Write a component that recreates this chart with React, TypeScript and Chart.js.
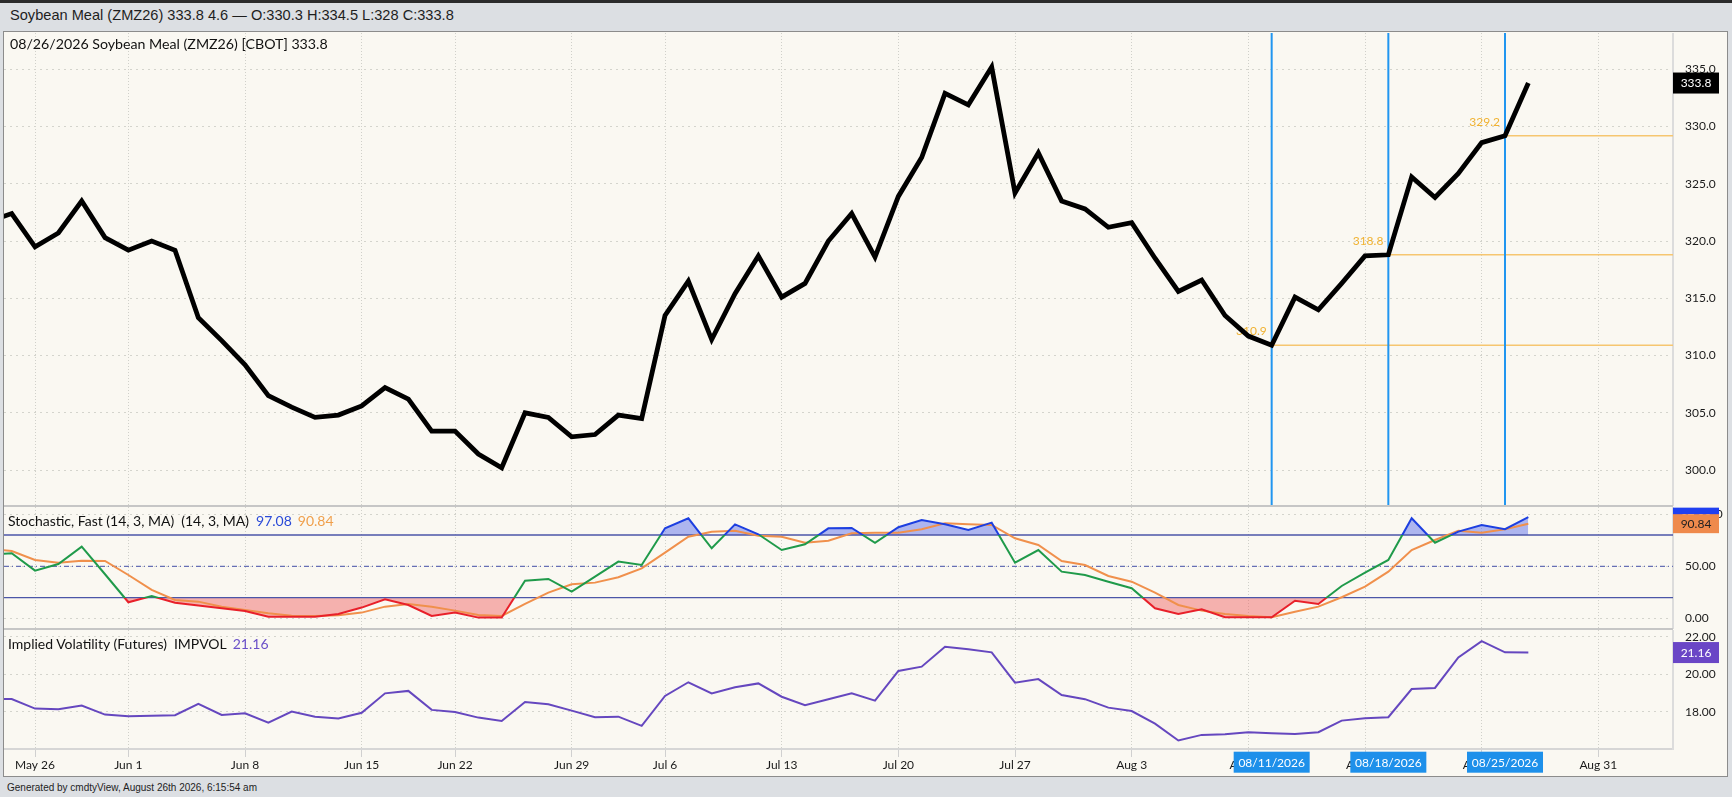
import React, { useEffect, useRef } from 'react';
import { Chart, registerables } from 'chart.js';

Chart.register(...registerables);

const FONT = 'Lato, "Open Sans", sans-serif';
const UI_FONT = '"Liberation Sans", Arial, sans-serif';
const YEAR = '2026';

// ---- data ----
const tradingDays = [
  '05/21', '05/22', '05/26', '05/27', '05/28', '05/29',
  '06/01', '06/02', '06/03', '06/04', '06/05',
  '06/08', '06/09', '06/10', '06/11', '06/12',
  '06/15', '06/16', '06/17', '06/18',
  '06/22', '06/23', '06/24', '06/25', '06/26',
  '06/29', '06/30', '07/01', '07/02',
  '07/06', '07/07', '07/08', '07/09', '07/10',
  '07/13', '07/14', '07/15', '07/16', '07/17',
  '07/20', '07/21', '07/22', '07/23', '07/24',
  '07/27', '07/28', '07/29', '07/30', '07/31',
  '08/03', '08/04', '08/05', '08/06', '08/07',
  '08/10', '08/11', '08/12', '08/13', '08/14',
  '08/17', '08/18', '08/19', '08/20', '08/21',
  '08/24', '08/25', '08/26',
];

const prices = [
  321.7, 322.4, 319.5, 320.7, 323.5, 320.3,
  319.2, 320.0, 319.2, 313.3, 311.3,
  309.2, 306.5, 305.5, 304.6, 304.8,
  305.6, 307.2, 306.2, 303.4,
  303.4, 301.4, 300.2, 305.0, 304.6,
  302.9, 303.1, 304.8, 304.5,
  313.5, 316.5, 311.4, 315.4, 318.7,
  315.1, 316.3, 320.0, 322.4, 318.6,
  323.9, 327.3, 332.9, 331.9, 335.2,
  324.2, 327.7, 323.5, 322.8, 321.2,
  321.6, 318.5, 315.6, 316.6, 313.5,
  311.7, 310.9, 315.1, 314.0, 316.3,
  318.7, 318.8, 325.6, 323.8, 325.9,
  328.6, 329.2, 333.8,
];

const stochK = [
  61.0, 62.5, 45.9, 52.2, 68.8, 42.4,
  15.6, 21.6, 15.2, 12.4, 9.8,
  7.3, 1.8, 1.8, 1.8, 4.4,
  10.5, 18.4, 13.0, 2.5,
  5.7, 0.9, 0.9, 36.3, 37.9,
  25.8, 40.1, 54.5, 51.3,
  86.4, 96.0, 67.3, 90.2, 80.7,
  65.6, 71.1, 86.4, 86.7, 72.6,
  87.4, 94.4, 90.2, 84.8, 91.8,
  53.5, 65.6, 44.9, 41.7, 35.3,
  29.0, 9.8, 4.4, 8.9, 1.2,
  1.2, 1.2, 17.1, 14.0, 31.2,
  43.9, 56.1, 96.0, 72.6, 83.2,
  89.6, 85.5, 97.08,
];

const stochD = [
  67.0, 64.7, 56.1, 53.5, 55.4, 55.1,
  41.7, 27.4, 17.8, 16.2, 11.4,
  8.2, 5.0, 2.8, 2.5, 3.2,
  5.7, 11.4, 14.0, 11.4,
  7.6, 3.4, 2.5, 14.0, 24.8,
  32.8, 34.4, 39.5, 48.1,
  63.1, 78.4, 83.2, 84.1, 79.3,
  78.4, 72.6, 74.5, 81.6, 82.2,
  82.2, 85.5, 91.2, 90.2, 89.6,
  76.8, 70.4, 55.1, 51.3, 40.8,
  35.3, 24.8, 13.0, 7.6, 4.4,
  2.5, 1.2, 6.6, 11.4, 20.4,
  30.5, 44.9, 65.6, 75.2, 84.1,
  82.2, 85.5, 90.84,
];

const impVol = [
  18.70, 18.69, 18.18, 18.14, 18.34, 17.86,
  17.77, 17.80, 17.83, 18.43, 17.84,
  17.93, 17.43, 18.02, 17.75, 17.65,
  17.96, 18.99, 19.12, 18.11,
  18.00, 17.70, 17.52, 18.53, 18.41,
  18.07, 17.72, 17.75, 17.26,
  18.85, 19.58, 18.99, 19.31, 19.52,
  18.81, 18.36, 18.68, 18.99, 18.60,
  20.18, 20.41, 21.47, 21.33, 21.17,
  19.56, 19.75, 18.90, 18.68, 18.23,
  18.05, 17.38, 16.48, 16.78, 16.82,
  16.92, 16.87, 16.83, 16.92, 17.54,
  17.67, 17.72, 19.22, 19.28, 20.90,
  21.77, 21.17, 21.16,
];

// x-axis tick positions (trading-day index, extending past the last bar) and labels
const tickIdx = [2, 6, 11, 16, 20, 25, 29, 34, 39, 44, 49, 54, 59, 64, 69];
const tickLabels = [
  'May 26', 'Jun 1', 'Jun 8', 'Jun 15', 'Jun 22', 'Jun 29', 'Jul 6', 'Jul 13',
  'Jul 20', 'Jul 27', 'Aug 3', 'Aug 10', 'Aug 17', 'Aug 24', 'Aug 31',
];

const markerDays = ['08/11', '08/18', '08/25'];
const priceTicks = [300, 305, 310, 315, 320, 325, 330, 335];
const stochTicks = [0, 50, 100];
const ivTicks = [18, 20, 22];
const stochUpper = 80;
const stochMid = 50;
const stochLower = 20;

// axis ranges
const X_MIN = 0.67;
const X_MAX = 72.2;
const PRICE_MIN = 296.86;
const PRICE_MAX = 338.17;
const STOCH_MIN = -10.0;
const STOCH_MAX = 106.8;
const IV_MIN = 16.03;
const IV_MAX = 22.36;

// ---- helpers ----
const LAST = prices.length - 1;
const markerIdx = markerDays.map((d) => tradingDays.indexOf(d));
const pts = (arr: number[]) => arr.map((y, x) => ({ x, y }));
const hline = (v: number, from = X_MIN) => [
  { x: from, y: v },
  { x: X_MAX, y: v },
];

function xAxis(labels: boolean): any {
  return {
    type: 'linear',
    min: X_MIN,
    max: X_MAX,
    afterBuildTicks: (s: any) => {
      s.ticks = tickIdx.map((v) => ({ value: v }));
    },
    afterFit: (s: any) => {
      s.height = labels ? 28 : 0;
      s.paddingLeft = 0;
      s.paddingRight = 0;
    },
    ticks: {
      display: labels,
      autoSkip: false,
      maxRotation: 0,
      minRotation: 0,
      padding: 1,
      color: '#1a1a1a',
      font: { family: FONT, size: 12 },
      callback: (v: number) => {
        const k = tickIdx.indexOf(v);
        return k >= 0 ? tickLabels[k] : '';
      },
    },
    grid: {
      color: '#d0d0ca',
      lineWidth: 1,
      drawTicks: labels,
      tickLength: 8,
      tickColor: '#d0d0d0',
      tickBorderDash: [],
    },
    border: { display: labels, color: '#d6d6d6', width: 2, dash: [1, 2] },
  };
}

function yAxis(min: number, max: number, ticks: number[], dec: number): any {
  return {
    type: 'linear',
    position: 'right',
    min,
    max,
    afterBuildTicks: (s: any) => {
      s.ticks = ticks.map((v) => ({ value: v }));
    },
    afterFit: (s: any) => {
      s.width = 54;
      s.paddingTop = 0;
      s.paddingBottom = 0;
    },
    ticks: {
      padding: 12,
      crossAlign: 'near',
      color: '#1a1a1a',
      font: { family: FONT, size: 12 },
      callback: (v: number) => Number(v).toFixed(dec),
    },
    grid: { color: '#d4d4cd', lineWidth: 1, drawTicks: false },
    border: { display: true, color: '#dcdcdc', width: 2, dash: [2, 4] },
  };
}

function drawBox(
  ctx: CanvasRenderingContext2D,
  x: number,
  yc: number,
  w: number,
  h: number,
  bg: string,
  text: string,
  fg: string
) {
  ctx.save();
  ctx.fillStyle = bg;
  ctx.fillRect(x, yc - h / 2, w, h);
  ctx.fillStyle = fg;
  ctx.font = `12px ${FONT}`;
  ctx.textAlign = 'center';
  ctx.textBaseline = 'middle';
  ctx.fillText(text, x + w / 2, yc + 0.5);
  ctx.restore();
}

const baseOptions = (scales: any, plugins: any = {}): any => ({
  responsive: false,
  maintainAspectRatio: false,
  animation: false,
  layout: { padding: 0 },
  events: [],
  elements: { point: { radius: 0, hoverRadius: 0 }, line: { tension: 0 } },
  plugins: {
    legend: { display: false },
    tooltip: { enabled: false },
    filler: { drawTime: 'beforeDatasetsDraw' },
    ...plugins,
  },
  scales,
});

// ---- main price chart ----
function mainConfig(): any {
  const overlay = {
    id: 'mainOverlay',
    beforeDatasetsDraw(chart: any) {
      const { ctx, scales } = chart;
      ctx.save();
      ctx.font = `12px ${FONT}`;
      ctx.fillStyle = '#f0b232';
      ctx.textAlign = 'right';
      ctx.textBaseline = 'middle';
      markerIdx.forEach((i) => {
        ctx.fillText(
          prices[i].toFixed(1),
          scales.x.getPixelForValue(i) - 5,
          scales.y.getPixelForValue(prices[i]) - 14
        );
      });
      ctx.restore();
    },
    afterDraw(chart: any) {
      const { ctx, scales, chartArea } = chart;
      drawBox(
        ctx,
        chartArea.right,
        scales.y.getPixelForValue(prices[LAST]),
        46,
        21,
        '#000',
        prices[LAST].toFixed(1),
        '#fff'
      );
    },
  };
  const datasets: any[] = [
    {
      data: pts(prices),
      borderColor: '#000',
      borderWidth: 4.8,
      borderJoinStyle: 'miter',
      fill: false,
      clip: 0,
    },
    ...markerIdx.map((i) => ({
      data: [
        { x: i, y: PRICE_MIN },
        { x: i, y: PRICE_MAX },
      ],
      borderColor: '#2196f0',
      borderWidth: 2,
      fill: false,
      clip: 0,
    })),
    ...markerIdx.map((i) => ({
      data: hline(prices[i], i),
      borderColor: '#f6c670',
      borderWidth: 1.5,
      fill: false,
      clip: 0,
    })),
  ];
  return {
    type: 'line',
    data: { datasets },
    options: baseOptions({
      x: xAxis(false),
      y: yAxis(PRICE_MIN, PRICE_MAX, priceTicks, 1),
    }),
    plugins: [overlay],
  };
}

// ---- stochastic chart ----
function stochConfig(): any {
  const kColor = (c: any) => {
    const chart = c.chart;
    const { chartArea, scales } = chart;
    if (!chartArea || !scales.y) return '#1f9a4a';
    const top = chartArea.top;
    const h = chartArea.bottom - chartArea.top;
    const s80 = Math.min(1, Math.max(0, (scales.y.getPixelForValue(stochUpper) - top) / h));
    const s20 = Math.min(1, Math.max(0, (scales.y.getPixelForValue(stochLower) - top) / h));
    const g = chart.ctx.createLinearGradient(0, top, 0, chartArea.bottom);
    g.addColorStop(0, '#1d3fe0');
    g.addColorStop(s80, '#1d3fe0');
    g.addColorStop(s80, '#1f9a4a');
    g.addColorStop(s20, '#1f9a4a');
    g.addColorStop(s20, '#e8202a');
    g.addColorStop(1, '#e8202a');
    return g;
  };
  const overlay = {
    id: 'stochOverlay',
    afterDraw(chart: any) {
      const { ctx, scales, chartArea } = chart;
      drawBox(ctx, chartArea.right, scales.y.getPixelForValue(stochK[LAST]), 46, 19, '#2040f0', stochK[LAST].toFixed(2), '#fff');
      drawBox(ctx, chartArea.right, scales.y.getPixelForValue(stochD[LAST]), 46, 19, '#ef8a4c', stochD[LAST].toFixed(2), '#222');
    },
  };
  const datasets: any[] = [
    {
      data: pts(stochK),
      borderColor: kColor,
      borderWidth: 2,
      fill: { target: { value: stochLower }, above: 'rgba(0,0,0,0)', below: 'rgba(240,90,90,0.45)' },
      clip: 0,
    },
    {
      data: pts(stochD),
      borderColor: '#f0904c',
      borderWidth: 2,
      fill: false,
      clip: 0,
    },
    {
      data: pts(stochK),
      borderColor: 'rgba(0,0,0,0)',
      borderWidth: 0,
      fill: { target: { value: stochUpper }, above: 'rgba(80,100,235,0.45)', below: 'rgba(0,0,0,0)' },
      clip: 0,
    },
    { data: hline(stochUpper), borderColor: '#4b56a8', borderWidth: 1.3, fill: false },
    { data: hline(stochLower), borderColor: '#4b56a8', borderWidth: 1.3, fill: false },
    { data: hline(stochMid), borderColor: '#666fb5', borderWidth: 1.2, borderDash: [5, 3, 1, 3], fill: false },
  ];
  return {
    type: 'line',
    data: { datasets },
    options: baseOptions({
      x: xAxis(false),
      y: yAxis(STOCH_MIN, STOCH_MAX, stochTicks, 2),
    }),
    plugins: [overlay],
  };
}

// ---- implied volatility chart ----
function ivConfig(): any {
  const overlay = {
    id: 'ivOverlay',
    afterDraw(chart: any) {
      const { ctx, scales, chartArea } = chart;
      drawBox(ctx, chartArea.right, scales.y.getPixelForValue(impVol[LAST]), 46, 21, '#6a46c6', impVol[LAST].toFixed(2), '#fff');
      markerIdx.forEach((i) => {
        const cx = scales.x.getPixelForValue(i);
        drawBox(ctx, cx - 38, chartArea.bottom + 13.2, 76, 21, '#1e90ea', `${tradingDays[i]}/${YEAR}`, '#fff');
      });
    },
  };
  const datasets: any[] = [
    {
      data: pts(impVol),
      borderColor: '#6547bf',
      borderWidth: 2,
      fill: false,
      clip: 0,
    },
  ];
  return {
    type: 'line',
    data: { datasets },
    options: baseOptions({
      x: xAxis(true),
      y: yAxis(IV_MIN, IV_MAX, ivTicks, 2),
    }),
    plugins: [overlay],
  };
}

const abs = (s: React.CSSProperties): React.CSSProperties => ({ position: 'absolute', ...s });

export default function App() {
  const mainRef = useRef<HTMLCanvasElement>(null);
  const stochRef = useRef<HTMLCanvasElement>(null);
  const ivRef = useRef<HTMLCanvasElement>(null);

  useEffect(() => {
    document.body.style.margin = '0';
    const charts: Chart[] = [];
    if (mainRef.current) charts.push(new Chart(mainRef.current, mainConfig()));
    if (stochRef.current) charts.push(new Chart(stochRef.current, stochConfig()));
    if (ivRef.current) charts.push(new Chart(ivRef.current, ivConfig()));
    return () => charts.forEach((c) => c.destroy());
  }, []);

  const change = (prices[LAST] - prices[LAST - 1]).toFixed(1);
  const header = `Soybean Meal (ZMZ26) ${prices[LAST].toFixed(1)} ${change} \u2014 O:330.3 H:334.5 L:328 C:${prices[LAST].toFixed(1)}`;
  const legendMain = `${tradingDays[LAST]}/${YEAR} Soybean Meal (ZMZ26) [CBOT] ${prices[LAST].toFixed(1)}`;

  const canvasStyle = (top: number, h: number) =>
    abs({ left: 4, top, width: 1723, height: h, display: 'block' });

  return (
    <div style={{ position: 'relative', width: 1732, height: 797, overflow: 'hidden', background: '#dcdfe3', fontFamily: FONT }}>
      <div style={abs({ left: 0, top: 0, width: 1732, height: 3, background: '#2b2b2b' })} />
      <div style={abs({ left: 10, top: 7, fontFamily: UI_FONT, fontSize: 14.6, lineHeight: '16px', color: '#1e1e1e', whiteSpace: 'nowrap' })}>
        {header}
      </div>
      <div style={abs({ left: 3, top: 31, width: 1725, height: 746, boxSizing: 'border-box', border: '1px solid #8c8c8c', background: '#faf8f2' })} />

      <canvas ref={mainRef} width={1723} height={473} style={canvasStyle(33, 473)} />
      <canvas ref={stochRef} width={1723} height={122} style={canvasStyle(507, 122)} />
      <canvas ref={ivRef} width={1723} height={147} style={canvasStyle(630, 147)} />

      <div style={abs({ left: 4, top: 505, width: 1669, height: 2, background: '#c6c6c6' })} />
      <div style={abs({ left: 4, top: 628, width: 1669, height: 2, background: '#c6c6c6' })} />

      <div style={abs({ left: 10, top: 35, fontSize: 14.2, lineHeight: '17px', color: '#111', whiteSpace: 'nowrap' })}>
        {legendMain}
      </div>
      <div style={abs({ left: 8, top: 512, fontSize: 14, lineHeight: '17px', color: '#111', whiteSpace: 'nowrap' })}>
        <span style={{ marginRight: 7 }}>Stochastic, Fast (14, 3, MA)</span>
        <span style={{ marginRight: 7 }}>(14, 3, MA)</span>
        <span style={{ marginRight: 6, color: '#2a4ad8' }}>{stochK[LAST].toFixed(2)}</span>
        <span style={{ color: '#f0a04c' }}>{stochD[LAST].toFixed(2)}</span>
      </div>
      <div style={abs({ left: 8, top: 635, fontSize: 14, lineHeight: '17px', color: '#111', whiteSpace: 'nowrap' })}>
        <span style={{ marginRight: 7 }}>Implied Volatility (Futures)</span>
        <span style={{ marginRight: 6 }}>IMPVOL</span>
        <span style={{ color: '#6a50c8' }}>{impVol[LAST].toFixed(2)}</span>
      </div>

      <div style={abs({ left: 7, top: 781, fontFamily: UI_FONT, fontSize: 10, lineHeight: '13px', color: '#1e1e1e', whiteSpace: 'nowrap' })}>
        Generated by cmdtyView, August 26th 2026, 6:15:54 am
      </div>
    </div>
  );
}
